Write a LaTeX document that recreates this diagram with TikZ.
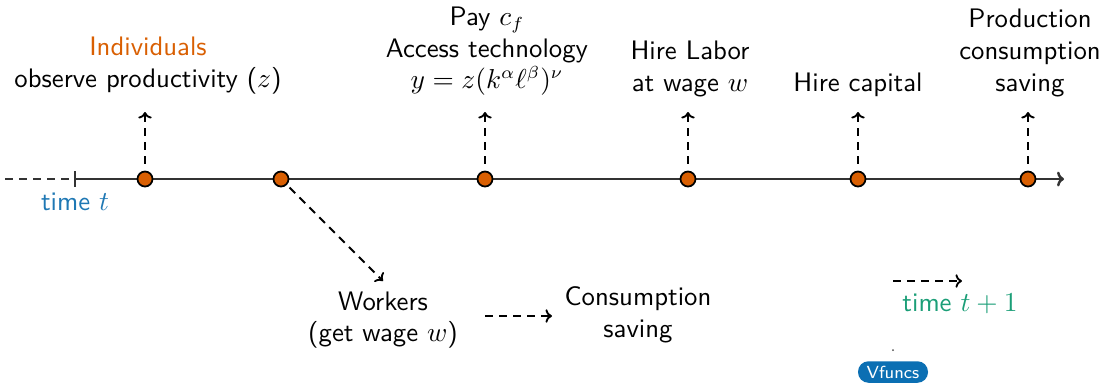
\documentclass[tikz,border=0pt]{standalone}
\usetikzlibrary{arrows.meta}
\definecolor{orng}{HTML}{D95F02}
\definecolor{tblue}{HTML}{1F78B4}
\definecolor{tgreen}{HTML}{1B9E77}
\definecolor{btnblue}{HTML}{0B6FB3}
\begin{document}
\begin{tikzpicture}[x=0.4pt,y=-0.4pt,
  font=\sffamily\fontsize{10.7}{12.8}\selectfont,
  event/.style={circle,draw=black,fill=orng,line width=0.7pt,inner sep=0pt,minimum size=6pt},
  axis/.style={draw=black!80,line width=1pt},
  dsh/.style={draw=black,line width=0.75pt,dash pattern=on 3.2pt off 2.4pt},
  darrow/.style={dsh,-{To[length=2.6pt,width=5.4pt]}},
  txt/.style={anchor=base,inner sep=0pt,align=center}]
\useasboundingbox (0,0) rectangle (1102,383);

% time axis
\coordinate (past) at (5,179);
\coordinate (t0) at (75,179);
\coordinate (tend) at (1064,179);
\draw[axis,dash pattern=on 3.2pt off 2.4pt] (past) -- (t0);
\draw[axis] (75,171) -- (75,187);
\draw[axis,-{To[length=2.8pt,width=6pt]}] (t0) -- (tend);
\node[txt,text=tblue] (timet) at (75,210) {time $t$};

% events on the axis
\node[event] (d1) at (145,179) {};
\node[event] (d2) at (281,179) {};
\node[event] (d3) at (485,179) {};
\node[event] (d4) at (688,179) {};
\node[event] (d5) at (858,179) {};
\node[event] (d6) at (1028,179) {};

% labels above the axis
\node[txt,text=orng] (l1a) at (148,55) {Individuals};
\node[txt] (l1b) at (148,87) {observe productivity ($z$)};
\node[txt] (l3a) at (487,25) {Pay $c_f$};
\node[txt] (l3b) at (487,57) {Access technology};
\node[txt] (l3c) at (487,88) {$y=z(k^\alpha\ell^\beta)^\nu$};
\node[txt] (l4a) at (690,59) {Hire Labor};
\node[txt] (l4b) at (690,91) {at wage $w$};
\node[txt] (l5) at (858,91) {Hire capital};
\node[txt] (l6a) at (1030,27) {Production};
\node[txt] (l6b) at (1030,59) {consumption};
\node[txt] (l6c) at (1030,91) {saving};

% dashed arrows from the events up to their labels
\foreach \d in {d1,d3,d4,d5,d6}{
  \coordinate (\d top) at ([yshift=2.8pt]\d.north);
  \draw[darrow] (\d top) -- (\d top |- 0,112);
}

% workers branch
\coordinate (wtip) at (383,281);
\draw[darrow,shorten <=1.5pt] (d2.south east) -- (wtip);
\node[txt] (wk1) at (383,310) {Workers};
\node[txt] (wk2) at (383,341) {(get wage $w$)};
\node[txt] (cs1) at (638,305) {Consumption};
\node[txt] (cs2) at (638,337) {saving};
\coordinate (wa) at (485,316);
\coordinate (wb) at (552,316);
\draw[darrow] (wa) -- (wb);

% next period
\coordinate (na) at (893,281);
\coordinate (nb) at (962,281);
\draw[darrow] (na) -- (nb);
\node[txt,text=tgreen] (timet1) at (960,311) {time $t+1$};

% navigation button
\fill[black!70] (893,350) circle (0.4pt);
\node[fill=btnblue,text=white,rounded corners=4.2pt,minimum width=28pt,minimum height=8.6pt,
      inner sep=0pt,font=\sffamily\fontsize{7}{8}\selectfont] (vf) at (893,372) {Vfuncs};
\end{tikzpicture}
\end{document}
